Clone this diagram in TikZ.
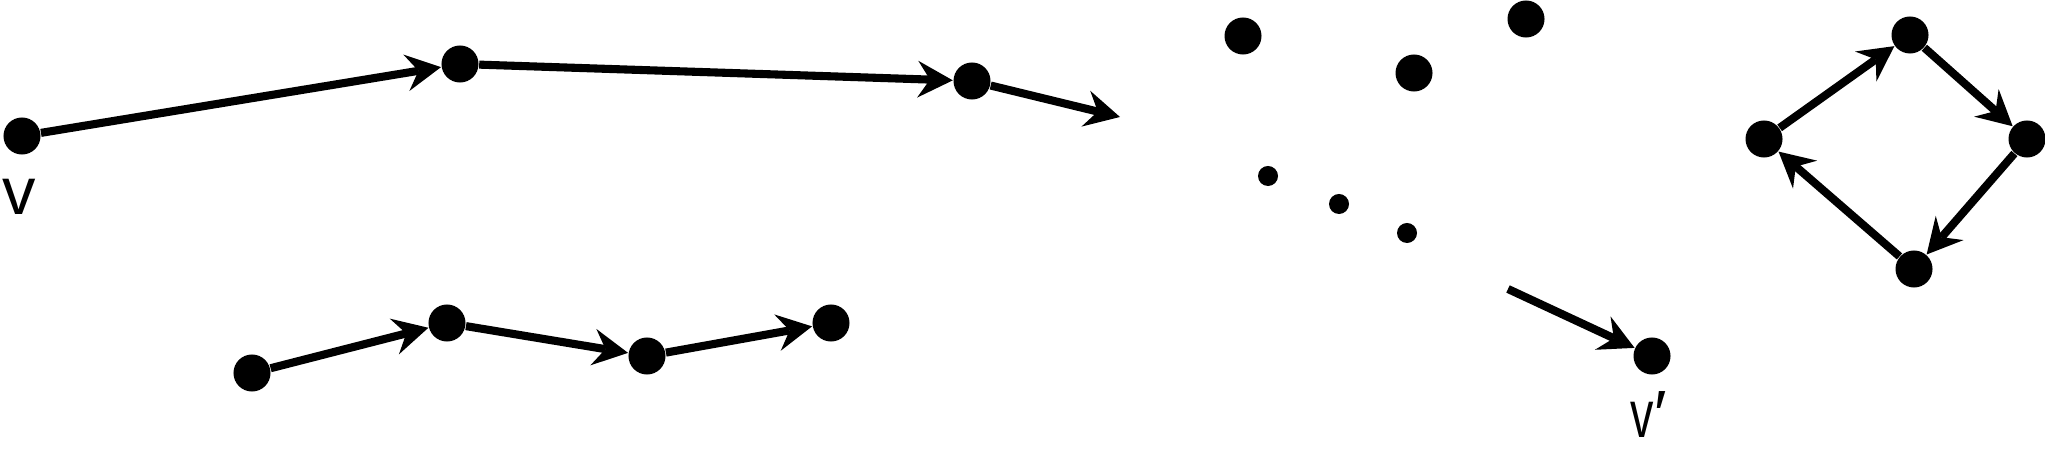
\documentclass[tikz,border=0pt]{standalone}
\usepackage{fontspec}
\setmainfont{Liberation Sans}
\usetikzlibrary{arrows.meta}
\tikzset{
  edge/.style={draw=black, line width=2.3pt, -{Stealth[length=10pt,width=10.5pt,inset=3.5pt,line width=0pt]}},
  dot/.style={circle, fill=black, inner sep=0pt, minimum size=3.7mm},
  sdot/.style={circle, fill=black, inner sep=0pt, minimum size=2mm},
  lab/.style={inner sep=0pt, font=\fontsize{19}{22}\selectfont},
}

\begin{document}
\begin{tikzpicture}[x=0.01cm,y=-0.01cm]
  \useasboundingbox (0,0) rectangle (2045,458);

  % upper walk from v
  \node[dot] (v) at (22,136) {};
  \node[dot] (a1) at (460,64) {};
  \node[dot] (a2) at (972,81) {};
  \coordinate (a3) at (1120,117);
  \node[lab,anchor=base west] (lv) at (2,215) {v};
  \draw[edge] (v) -- (a1);
  \draw[edge] (a1) -- (a2);
  \draw[edge] (a2) -- (a3);

  % lower walk
  \node[dot] (b1) at (252,373) {};
  \node[dot] (b2) at (447,323) {};
  \node[dot] (b3) at (647,356) {};
  \node[dot] (b4) at (831,323) {};
  \foreach \s/\t in {b1/b2,b2/b3,b3/b4}
    \draw[edge] (\s) -- (\t);

  % loose vertices
  \node[dot] (m1) at (1243,36) {};
  \node[dot] (m2) at (1414,73) {};
  \node[dot] (m3) at (1526,19) {};
  \node[sdot] (s1) at (1268,176) {};
  \node[sdot] (s2) at (1339,204) {};
  \node[sdot] (s3) at (1407,233) {};

  % walk ending in v'
  \coordinate (c0) at (1508,289);
  \node[dot] (vp) at (1652,356) {};
  \node[lab,anchor=base west] (lvp) at (1630,438) {\scalebox{0.7}[1]{v}′};
  \draw[edge] (c0) -- (vp);

  % cycle
  \node[dot] (d1) at (1764,139) {};
  \node[dot] (d2) at (1910,35) {};
  \node[dot] (d3) at (2027,139) {};
  \node[dot] (d4) at (1914,269) {};
  \foreach \s/\t in {d1/d2,d2/d3,d3/d4,d4/d1}
    \draw[edge] (\s) -- (\t);
\end{tikzpicture}
\end{document}
